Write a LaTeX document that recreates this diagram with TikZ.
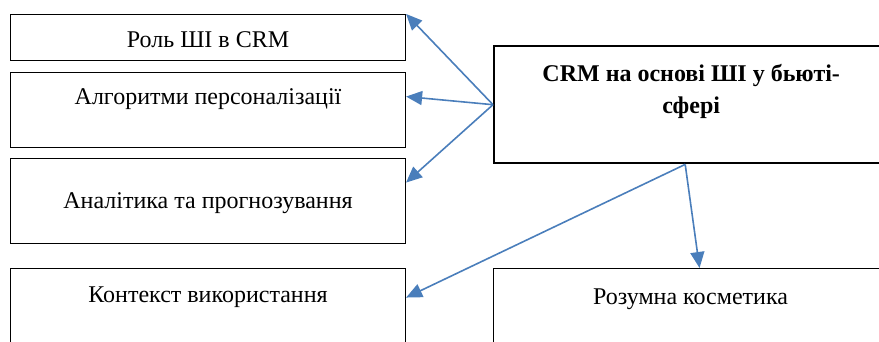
\documentclass[tikz,border=0pt]{standalone}
\usepackage{fontspec}
\setmainfont{Liberation Serif}
\usepackage{xcolor}
\usetikzlibrary{arrows.meta, positioning}
\definecolor{synii}{HTML}{4A7EBB}

\begin{document}
\begin{tikzpicture}[x=1pt, y=-1pt,
        blok/.style={draw, line width=1.1pt, anchor=north west, inner sep=0pt, minimum width=395pt, align=center, font=\fontsize{24}{32}\selectfont},
        golovnyi/.style={blok, line width=2.4pt, minimum width=394pt, font=\fontsize{24}{32}\selectfont\bfseries},
        strilka/.style={-{Triangle[length=16pt, width=14pt]}, line width=1.6pt, draw=synii}
    ]
        \useasboundingbox (0,0) rectangle (879,341);
        \clip (0,0) rectangle (879,341);

        % Left column
        \node[blok, minimum height=46pt, text height=33pt, text depth=13pt] (rol) at (10,14) {Роль ШІ в CRM};
        \node[blok, minimum height=75pt, text height=32pt, text depth=43pt] (alg) at (10,72) {Алгоритми персоналізації};
        \node[blok, minimum height=85pt, text height=50pt, text depth=35pt] (anal) at (10,158) {Аналітика та прогнозування};
        \node[blok, minimum height=85pt, text height=34pt, text depth=51pt] (kont) at (10,268) {Контекст використання};

        % Main box
        \node[golovnyi, minimum height=117pt, text height=67pt, text depth=50pt] (crm) at (493,45) {CRM на основі ШІ у бьюті-\\сфері};
        \node[blok, minimum width=394pt, minimum height=85pt, text height=36pt, text depth=49pt] (kosm) at (493,268) {Розумна косметика};

        % Arrows
        \draw[strilka] (crm.west) -- (rol.north east);
        \draw[strilka] (crm.west) -- ([yshift=13.5pt]alg.east);
        \draw[strilka] (crm.west) -- ([yshift=18.5pt]anal.east);
        \draw[strilka] ([xshift=-6pt]crm.south) -- ([yshift=13.5pt]kont.east);
        \draw[strilka] ([xshift=-6pt]crm.south) -- ([xshift=9pt]kosm.north);
    \end{tikzpicture}
\end{document}
